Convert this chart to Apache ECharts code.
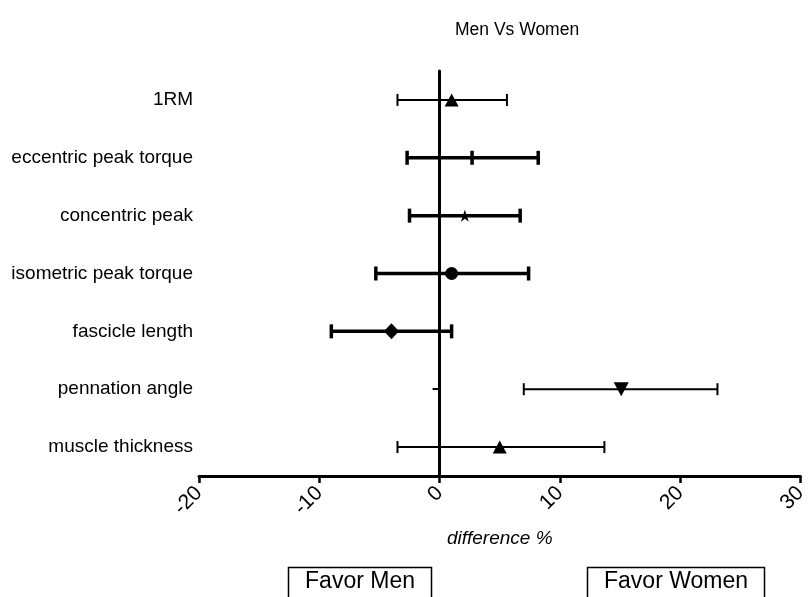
<!DOCTYPE html>
<html><head><meta charset="utf-8">
<script src="https://cdn.jsdelivr.net/npm/echarts@6/dist/echarts.min.js"></script>
<style>html,body{margin:0;padding:0;background:#fff}#c{width:810px;height:597px}</style>
</head><body><div id="c"></div>
<script>
// ---- data ----
const categories = ['1RM', 'eccentric peak torque', 'concentric peak', 'isometric peak torque', 'fascicle length', 'pennation angle', 'muscle thickness'];
const means = [1.0, 2.7, 2.1, 1.0, -4.0, 15.1, 5.0];
const lows  = [-3.5, -2.7, -2.5, -5.3, -9.0, 7.0, -3.5];
const highs = [5.6, 8.2, 6.7, 7.4, 1.0, 23.1, 13.7];
const markerKinds = ['triangleUp', 'bar', 'star', 'circle', 'diamond', 'triangleDown', 'triangleUp'];
const barKinds = ['thin', 'thick', 'thick', 'thick', 'thick', 'thin', 'thin'];
const xMin = -20, xMax = 30, xStep = 10;
const titleText = 'Men Vs Women';
const xName = 'difference %';
const boxLabels = ['Favor Men', 'Favor Women'];

// ---- styles ----
const FONT = '"Liberation Sans", Arial, Helvetica, sans-serif';
const barStyle = { thin: { w: 2, cap: 6 }, thick: { w: 3.5, cap: 7 } };
const markerStyle = {
  triangleUp: { symbol: 'triangle', size: [14, 13], rotate: 0 },
  triangleDown: { symbol: 'triangle', size: [15, 14], rotate: 180 },
  bar: { symbol: 'rect', size: [3.5, 14], rotate: 0 },
  star: { symbol: 'path://M50,0 L61,35 L98,35 L68,57 L79,91 L50,70 L21,91 L32,57 L2,35 L39,35 Z', size: [13, 12], rotate: 0 },
  circle: { symbol: 'circle', size: 13, rotate: 0 },
  diamond: { symbol: 'diamond', size: [15, 16], rotate: 0 }
};

const barData = categories.map((c, i) => [lows[i], highs[i], i, barKinds[i]]);
const pointData = categories.map((c, i) => {
  const m = markerStyle[markerKinds[i]];
  return { value: [means[i], i], symbol: m.symbol, symbolSize: m.size, symbolRotate: m.rotate };
});

const chart = echarts.init(document.getElementById('c'), null, { renderer: 'canvas' });
chart.setOption({
  animation: false,
  backgroundColor: '#fff',
  textStyle: { fontFamily: FONT, color: '#000' },
  title: {
    text: titleText, left: 450, top: 16,
    textStyle: { fontFamily: FONT, fontSize: 17.5, fontWeight: 'normal', color: '#000' }
  },
  grid: { left: 199, right: 1, top: 71, bottom: 121, containLabel: false },
  xAxis: {
    type: 'value', min: xMin, max: xMax, interval: xStep,
    splitLine: { show: false },
    axisLine: { show: true, onZero: false, lineStyle: { color: '#000', width: 3 } },
    axisTick: { show: true, length: 7, lineStyle: { color: '#000', width: 2.5 } },
    axisLabel: { rotate: 45, fontSize: 21, color: '#000', margin: 14, fontFamily: FONT, showMinLabel: true, showMaxLabel: true, hideOverlap: false },
    name: xName, nameLocation: 'middle', nameGap: 53,
    nameTextStyle: { fontSize: 19, fontStyle: 'italic', color: '#000', fontFamily: FONT }
  },
  yAxis: [
    {
      type: 'category', data: categories, inverse: true,
      axisLine: { show: true, onZero: true, lineStyle: { color: '#000', width: 3 } },
      axisTick: { show: true, alignWithLabel: true, length: 7, lineStyle: { color: '#000', width: 2 } },
      axisLabel: { show: false },
      splitLine: { show: false }
    },
    {
      type: 'category', data: categories, inverse: true, position: 'left', offset: 0,
      axisLine: { show: false, onZero: false },
      axisTick: { show: false },
      axisLabel: { show: true, fontSize: 19, color: '#000', margin: 6, fontFamily: FONT },
      splitLine: { show: false }
    }
  ],
  series: [
    {
      type: 'custom', yAxisIndex: 0, data: barData,
      renderItem: function (params, api) {
        const lo = api.coord([api.value(0), api.value(2)]);
        const hi = api.coord([api.value(1), api.value(2)]);
        const s = barStyle[barKinds[params.dataIndex]];
        const st = { stroke: '#000', lineWidth: s.w };
        return {
          type: 'group',
          children: [
            { type: 'line', shape: { x1: lo[0], y1: lo[1], x2: hi[0], y2: hi[1] }, style: st },
            { type: 'line', shape: { x1: lo[0], y1: lo[1] - s.cap, x2: lo[0], y2: lo[1] + s.cap }, style: st },
            { type: 'line', shape: { x1: hi[0], y1: hi[1] - s.cap, x2: hi[0], y2: hi[1] + s.cap }, style: st }
          ]
        };
      },
      z: 3
    },
    {
      type: 'scatter', yAxisIndex: 0, data: pointData,
      itemStyle: { color: '#000', opacity: 1 },
      z: 4
    }
  ],
  graphic: [
    { type: 'rect', shape: { x: 288.5, y: 567.5, width: 143, height: 40 }, style: { fill: '#fff', stroke: '#000', lineWidth: 1.5 } },
    { type: 'text', x: 360, y: 582, style: { text: boxLabels[0], fontSize: 23, fontFamily: FONT, fill: '#000', textAlign: 'center', textVerticalAlign: 'middle' } },
    { type: 'rect', shape: { x: 587.5, y: 567.5, width: 177, height: 40 }, style: { fill: '#fff', stroke: '#000', lineWidth: 1.5 } },
    { type: 'text', x: 676, y: 582, style: { text: boxLabels[1], fontSize: 23, fontFamily: FONT, fill: '#000', textAlign: 'center', textVerticalAlign: 'middle' } }
  ]
});
</script>
</body></html>
